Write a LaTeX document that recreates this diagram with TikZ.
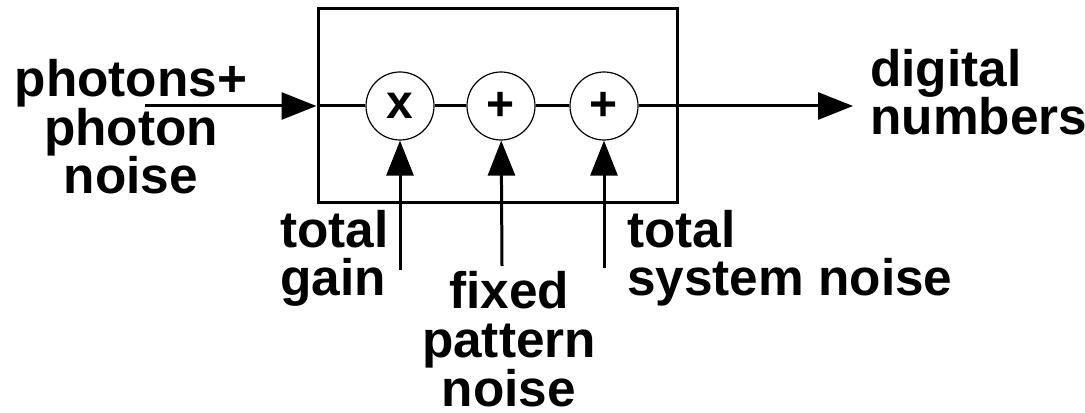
\documentclass[tikz,border=0pt]{standalone}
\usepackage{fontspec}
\setmainfont{Liberation Sans}
\usetikzlibrary{arrows.meta}
\begin{document}
\begin{tikzpicture}[x=0.75pt,y=-0.75pt,
  lbl/.style={inner sep=0pt, font={\fontsize{38.5}{36.4}\selectfont\bfseries}},
  opnode/.style={circle, draw, line width=0.9pt, minimum size=51pt, inner sep=0pt,
                 font={\fontsize{36}{36}\selectfont\bfseries}},
  blockbox/.style={draw, line width=2.25pt, minimum width=269.25pt, minimum height=145.5pt, inner sep=0pt},
  conn/.style={line width=2.25pt},
  arr/.style={line width=2.25pt, -{Triangle[length=26.25pt,width=20.25pt]}}]
\useasboundingbox (0,0) rectangle (1085,413);
% block
\node[blockbox] (box) at (497.5,106) {};
\node[opnode] (c1) at (400,106) {x};
\node[opnode] (c2) at (501,106) {+};
\node[opnode] (c3) at (604,106) {+};
% connectors
\coordinate (inS) at (145,106);
\coordinate (outE) at (853,106);
\coordinate (gS) at (400,270);
\coordinate (fS) at (502,266);
\coordinate (sS) at (604,268);
\draw[arr] (inS) -- (box.west);
\draw[conn] (box.west) -- (c1);
\draw[conn] (c1) -- (c2);
\draw[conn] (c2) -- (c3);
\draw[arr] (c3) -- (outE);
\draw[arr] (gS) -- (c1);
\draw[arr] (fS) -- (c2);
\draw[arr] (sS) -- (c3);
% labels (base anchor = baseline of last line)
\node[lbl, align=center, anchor=base] (inlbl) at (131,194) {photons+\\photon\\noise};
\node[lbl, align=left, anchor=base west] (outlbl) at (870,135) {digital\\numbers};
\node[lbl, align=left, anchor=base west] (gainlbl) at (280,296) {total\\gain};
\node[lbl, align=center, anchor=base] (fpnlbl) at (509,406) {fixed\\pattern\\noise};
\node[lbl, align=left, anchor=base west] (sysLbl) at (627,296) {total\\system noise};
\end{tikzpicture}
\end{document}
